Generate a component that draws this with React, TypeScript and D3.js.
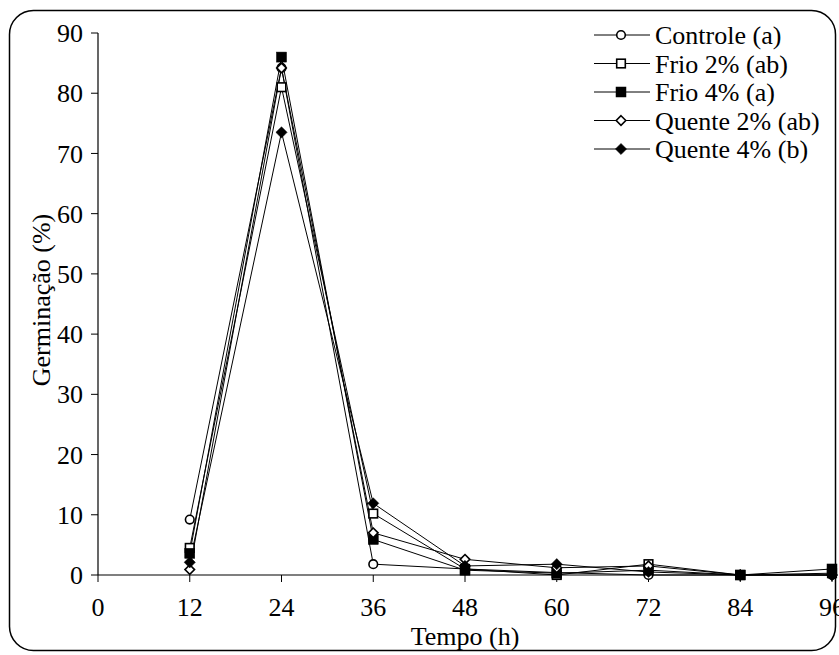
import React from "react";
import * as d3 from "d3";

const hours = [12, 24, 36, 48, 60, 72, 84, 96];
const controle = [9.2, 84.2, 1.8, 1.0, 0.4, 0.0, 0.0, 0.0];
const frio2 = [4.5, 81.0, 10.2, 1.0, 0.0, 1.8, 0.0, 0.3];
const frio4 = [3.6, 86.0, 5.9, 0.8, 0.3, 0.8, 0.0, 1.0];
const quente2 = [0.9, 84.2, 7.0, 2.6, 1.2, 1.5, 0.0, 0.0];
const quente4 = [2.1, 73.5, 11.9, 1.5, 1.8, 0.5, 0.0, 0.0];
const seriesNames = ["Controle (a)", "Frio 2% (ab)", "Frio 4% (a)", "Quente 2% (ab)", "Quente 4% (b)"];
const seriesValues = [controle, frio2, frio4, quente2, quente4];
const markerKinds = ["circleOpen", "squareOpen", "squareFilled", "diamondOpen", "diamondFilled"];
const xTicks = [0, 12, 24, 36, 48, 60, 72, 84, 96];
const yTicks = [0, 10, 20, 30, 40, 50, 60, 70, 80, 90];

const FONT = "'Liberation Serif', 'DejaVu Serif', 'Noto Serif', 'Times New Roman', Times, serif";
const FS = 26;

function Marker({ kind, x, y }: { kind: string; x: number; y: number }) {
  const sw = 1.6;
  if (kind === "circleOpen")
    return <circle cx={x} cy={y} r={4.3} fill="#fff" stroke="#000" strokeWidth={sw} />;
  if (kind === "squareOpen")
    return <rect x={x - 4.3} y={y - 4.3} width={8.6} height={8.6} fill="#fff" stroke="#000" strokeWidth={sw} />;
  if (kind === "squareFilled")
    return <rect x={x - 5} y={y - 5} width={10} height={10} fill="#000" stroke="#000" strokeWidth={0.5} />;
  const s = kind === "diamondOpen" ? 4.8 : 5.6;
  const d = `M${x},${y - s}L${x + s},${y}L${x},${y + s}L${x - s},${y}Z`;
  if (kind === "diamondOpen")
    return <path d={d} fill="#fff" stroke="#000" strokeWidth={sw} />;
  return <path d={d} fill="#000" stroke="#000" strokeWidth={0.5} />;
}

export default function App() {
  const x = d3.scaleLinear().domain([0, 96]).range([98, 832]);
  const y = d3.scaleLinear().domain([0, 90]).range([575, 33]);
  const line = d3
    .line<[number, number]>()
    .x((d) => x(d[0]))
    .y((d) => y(d[1]));
  const ts = { fontFamily: FONT, fontSize: FS } as React.CSSProperties;

  return (
    <svg
      width={839}
      height={655}
      style={{ position: "absolute", left: 0, top: 0, background: "#fff", fontFamily: FONT }}
    >
      <rect x={9.5} y={10.5} width={826} height={640} rx={24} ry={24} fill="#fff" stroke="#000" strokeWidth={1.5} />
      <line x1={x(0)} y1={y(0)} x2={x(96)} y2={y(0)} stroke="#000" strokeWidth={1.2} />
      <line x1={x(0)} y1={y(0)} x2={x(0)} y2={y(90)} stroke="#000" strokeWidth={1.2} />
      {yTicks.map((t) => (
        <g key={"y" + t}>
          <line x1={x(0) - 7} x2={x(0)} y1={y(t)} y2={y(t)} stroke="#000" strokeWidth={1} />
          <text x={x(0) - 15} y={y(t)} dy="0.35em" textAnchor="end" style={ts}>
            {t}
          </text>
        </g>
      ))}
      {xTicks.map((t) => (
        <g key={"x" + t}>
          <line x1={x(t)} x2={x(t)} y1={y(0)} y2={y(0) + 7} stroke="#000" strokeWidth={1} />
          <text x={x(t)} y={y(0) + 41} textAnchor="middle" style={ts}>
            {t}
          </text>
        </g>
      ))}
      <text x={465} y={645} textAnchor="middle" style={ts}>
        Tempo (h)
      </text>
      <text
        transform={`translate(50,300) rotate(-90)`}
        textAnchor="middle"
        style={ts}
      >
        Germinação (%)
      </text>
      {seriesValues.map((vals, i) => (
        <path
          key={"l" + i}
          d={line(hours.map((h, j) => [h, vals[j]] as [number, number])) || ""}
          fill="none"
          stroke="#000"
          strokeWidth={1}
        />
      ))}
      {seriesValues.map((vals, i) => (
        <g key={"m" + i}>
          {hours.map((h, j) => (
            <Marker key={j} kind={markerKinds[i]} x={x(h)} y={y(vals[j])} />
          ))}
        </g>
      ))}
      {seriesNames.map((name, i) => {
        const ly = 35 + i * 28.5;
        return (
          <g key={"lg" + i}>
            <line x1={594} x2={650} y1={ly} y2={ly} stroke="#000" strokeWidth={1} />
            <Marker kind={markerKinds[i]} x={621} y={ly} />
            <text x={655} y={ly} dy="0.35em" style={ts}>
              {name}
            </text>
          </g>
        );
      })}
    </svg>
  );
}
